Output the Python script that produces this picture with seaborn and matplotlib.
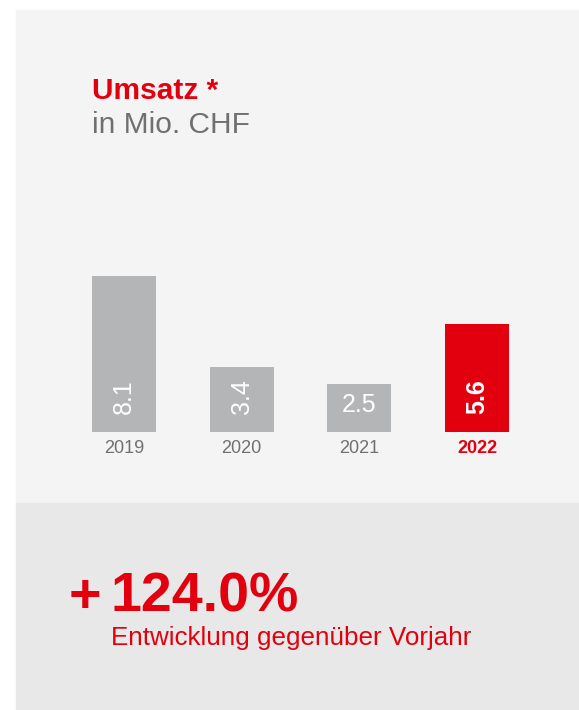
import matplotlib
matplotlib.use("Agg")
import matplotlib.pyplot as plt
from matplotlib.patches import Rectangle
import seaborn as sns
import pandas as pd

# Data
years = ["2019", "2020", "2021", "2022"]
umsatz = [8.1, 3.4, 2.5, 5.6]
value_labels = ["8.1", "3.4", "2.5", "5.6"]
change_label = "124.0%"

RED = "#e2000f"
GREY_BAR = "#b4b5b7"
GREY_TXT = "#707070"
W, H = 579, 710

sns.set_theme(style="white")
plt.rcParams["font.family"] = ["Liberation Sans", "DejaVu Sans"]

fig = plt.figure(figsize=(W / 100, H / 100), dpi=100)
fig.patch.set_facecolor("white")


def px(x, y):
    return x / W, 1 - y / H


# background panels
fig.patches.append(Rectangle(px(16, 503), (W - 16) / W, 493 / H,
                             transform=fig.transFigure, color="#f4f4f4", zorder=-10))
fig.patches.append(Rectangle(px(16, 710), (W - 16) / W, 207 / H,
                             transform=fig.transFigure, color="#e8e8e8", zorder=-10))

ax = fig.add_axes([65.2 / W, (H - 432) / H, 470.7 / W, 192.6 / H])
ax.set_facecolor("none")
ax.set_zorder(5)

df = pd.DataFrame({"year": years, "value": umsatz})
palette = {y: (RED if y == "2022" else GREY_BAR) for y in years}
sns.barplot(data=df, x="year", y="value", hue="year", palette=palette,
            width=0.544, saturation=1, legend=False, linewidth=0, ax=ax)

ax.set_xlim(-0.5, 3.5)
ax.set_ylim(0, 10)
ax.set_xlabel("")
ax.set_ylabel("")
ax.set_yticks([])
sns.despine(ax=ax, left=True, bottom=True)
ax.tick_params(axis="x", length=0, pad=6, labelsize=13)
for lbl in ax.get_xticklabels():
    if lbl.get_text() == "2022":
        lbl.set_color(RED)
        lbl.set_fontweight("bold")
    else:
        lbl.set_color(GREY_TXT)

# value labels inside bars (short bars get horizontal labels)
for i, (v, t) in enumerate(zip(umsatz, value_labels)):
    weight = "bold" if years[i] == "2022" else "normal"
    if v >= 3:
        ax.annotate(t, xy=(i, 0), xytext=(0, 13), textcoords="offset points",
                    ha="center", va="bottom", rotation=90, color="white",
                    fontsize=18, fontweight=weight)
    else:
        ax.annotate(t, xy=(i, 0), xytext=(0, 14.4), textcoords="offset points",
                    ha="center", va="baseline", color="white",
                    fontsize=18, fontweight=weight)

# title
fig.text(*px(92, 99), "Umsatz *", color=RED, fontsize=21.5, fontweight="bold",
         va="baseline", ha="left")
fig.text(*px(92, 133), "in Mio. CHF", color=GREY_TXT, fontsize=21.5,
         va="baseline", ha="left")

# change block
fig.text(*px(69, 612), "+", color=RED, fontsize=40, fontweight="bold",
         va="baseline", ha="left")
fig.text(*px(110, 612), change_label, color=RED, fontsize=40, fontweight="bold",
         va="baseline", ha="left")
fig.text(*px(111, 645), "Entwicklung gegenüber Vorjahr", color=RED, fontsize=18.7,
         va="baseline", ha="left")

fig.savefig("out.png", dpi=100)
